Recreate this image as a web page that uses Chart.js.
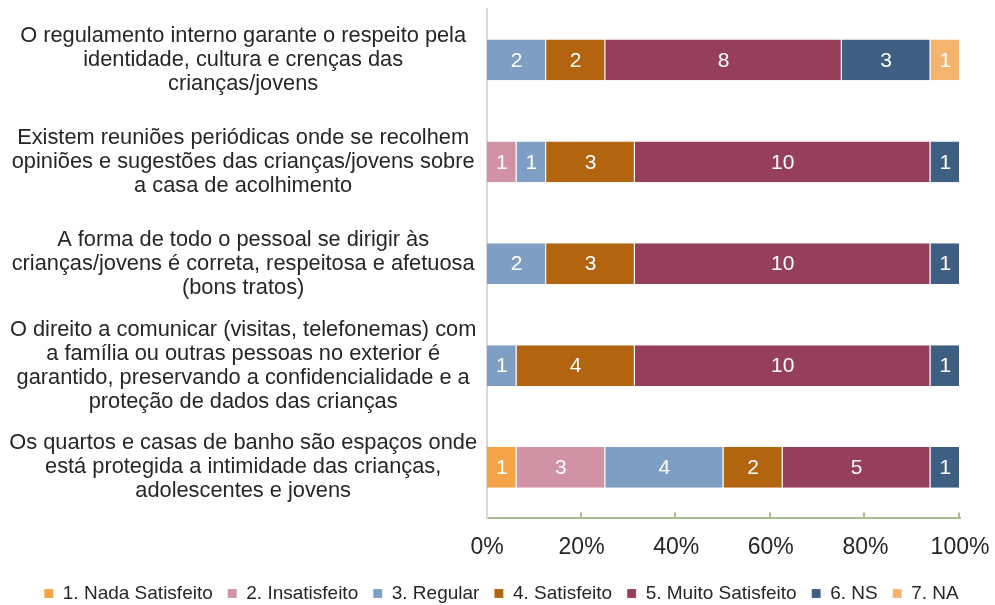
<!DOCTYPE html>
<html>
<head>
<meta charset="utf-8">
<script src="https://cdn.jsdelivr.net/npm/chart.js@4/dist/chart.umd.min.js"></script>
<style>
  html, body { margin: 0; padding: 0; background: #ffffff; }
  #wrap { width: 995px; height: 605px; position: relative; }
</style>
</head>
<body>
<div id="wrap"><canvas id="grafico"></canvas></div>
<script>
// categorias (de cima para baixo), cada uma em várias linhas
const categorias = [
    ['O regulamento interno garante o respeito pela', 'identidade, cultura e crenças das', 'crianças/jovens'],
    ['Existem reuniões periódicas onde se recolhem', 'opiniões e sugestões das crianças/jovens sobre', 'a casa de acolhimento'],
    ['A forma de todo o pessoal se dirigir às', 'crianças/jovens é correta, respeitosa e afetuosa', '(bons tratos)'],
    ['O direito a comunicar (visitas, telefonemas) com', 'a família ou outras pessoas no exterior é', 'garantido, preservando a confidencialidade e a', 'proteção de dados das crianças'],
    ['Os quartos e casas de banho são espaços onde', 'está protegida a intimidade das crianças,', 'adolescentes e jovens']
];

const series = ['1. Nada Satisfeito', '2. Insatisfeito', '3. Regular', '4. Satisfeito', '5. Muito Satisfeito', '6. NS', '7. NA'];
const cores = ['#F4A346', '#D192A6', '#7F9EC3', '#B2640F', '#963F5C', '#3E5E82', '#F5B46D'];

// contagens por série (mesma ordem das categorias)
const nadaSatisfeito   = [0, 0, 0, 0, 1];
const insatisfeito     = [0, 1, 0, 0, 3];
const regular          = [2, 1, 2, 1, 4];
const satisfeito       = [2, 3, 3, 4, 2];
const muitoSatisfeito  = [8, 10, 10, 10, 5];
const ns               = [3, 1, 1, 1, 1];
const na               = [1, 0, 0, 0, 0];

const xTicks = [0, 20, 40, 60, 80, 100];

const contagens = [nadaSatisfeito, insatisfeito, regular, satisfeito, muitoSatisfeito, ns, na];
const totais = categorias.map((c, i) => contagens.reduce((s, arr) => s + arr[i], 0));

const FONTE = "'Liberation Sans', Arial, sans-serif";
const corTexto = '#262626';

// rótulos com a contagem dentro de cada segmento
const rotulosPlugin = {
    id: 'rotulos',
    afterDatasetsDraw(chart) {
        const ctx = chart.ctx;
        ctx.save();
        ctx.font = '21px ' + FONTE;
        ctx.fillStyle = '#ffffff';
        ctx.textAlign = 'center';
        ctx.textBaseline = 'middle';
        chart.data.datasets.forEach((ds, di) => {
            const meta = chart.getDatasetMeta(di);
            meta.data.forEach((bar, i) => {
                const n = ds.contagem[i];
                if (!n) return;
                const p = bar.getCenterPoint();
                ctx.fillText(String(n), p.x, p.y + 1);
            });
        });
        ctx.restore();
    }
};

// marcas do eixo x viradas para cima, como no original
const marcasPlugin = {
    id: 'marcas',
    afterDraw(chart) {
        const sx = chart.scales.x;
        const ctx = chart.ctx;
        ctx.save();
        ctx.strokeStyle = '#A9BD91';
        ctx.lineWidth = 2;
        xTicks.forEach(v => {
            if (v === 0) return;
            const x = Math.round(sx.getPixelForValue(v)) - 1;
            ctx.beginPath();
            ctx.moveTo(x, sx.top);
            ctx.lineTo(x, sx.top - 6);
            ctx.stroke();
        });
        ctx.restore();
    }
};

new Chart(document.getElementById('grafico'), {
    type: 'bar',
    data: {
        labels: categorias,
        datasets: series.map((nome, k) => ({
            label: nome,
            data: contagens[k].map((v, i) => v / totais[i] * 100),
            contagem: contagens[k],
            backgroundColor: cores[k],
            borderColor: 'rgba(255,255,255,0.55)',
            borderWidth: { left: 0, right: 1, top: 0, bottom: 0 },
            borderSkipped: false,
            barPercentage: 0.4,
            categoryPercentage: 1
        }))
    },
    options: {
        indexAxis: 'y',
        responsive: true,
        maintainAspectRatio: false,
        animation: false,
        layout: { padding: { top: 9, left: 8, right: 0, bottom: -8 } },
        plugins: {
            legend: {
                position: 'bottom',
                labels: {
                    font: { family: FONTE, size: 19 },
                    color: corTexto,
                    boxWidth: 9,
                    boxHeight: 9,
                    padding: 15
                }
            },
            tooltip: { enabled: false }
        },
        scales: {
            x: {
                stacked: true,
                min: 0,
                max: 100,
                afterBuildTicks(scale) { scale.ticks = xTicks.map(v => ({ value: v })); },
                afterFit(scale) { scale.paddingRight = 35; scale.height = 50.6; },
                ticks: {
                    callback: v => v + '%',
                    font: { family: FONTE, size: 23 },
                    color: corTexto,
                    padding: 15,
                    maxRotation: 0
                },
                grid: { display: false, drawTicks: false },
                border: { display: true, color: '#A9BD91', width: 2 }
            },
            y: {
                stacked: true,
                afterFit(scale) { scale.paddingTop = 0; scale.paddingBottom = 0; scale.width = 479; },
                ticks: {
                    autoSkip: false,
                    font: { family: FONTE, size: 21.8, lineHeight: 1.1 },
                    color: corTexto,
                    crossAlign: 'center',
                    padding: 10
                },
                grid: { display: false, drawTicks: false },
                border: { display: true, color: '#D9D9D9', width: 2 }
            }
        }
    },
    plugins: [rotulosPlugin, marcasPlugin]
});
</script>
</body>
</html>
